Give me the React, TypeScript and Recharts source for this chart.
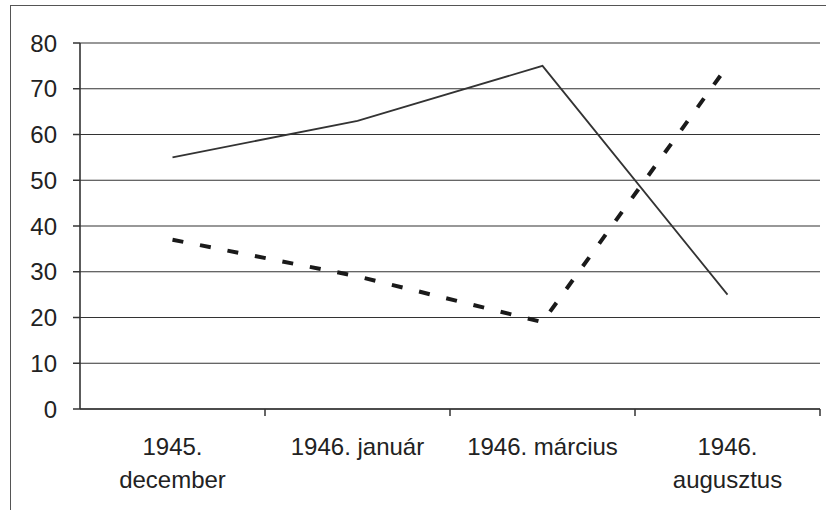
import React from 'react';
import { LineChart, Line, XAxis, YAxis, CartesianGrid } from 'recharts';

const categories = ['1945. december', '1946. január', '1946. március', '1946. augusztus'];
const tickLabelLines = [['1945.', 'december'], ['1946. január'], ['1946. március'], ['1946.', 'augusztus']];
const solidSeries = [55, 63, 75, 25];
const dashedSeries = [37, 29, 19, 75];
const yTicks = [0, 10, 20, 30, 40, 50, 60, 70, 80];

const data = categories.map((c, i) => ({ name: c, solid: solidSeries[i], dashed: dashedSeries[i] }));

const W = 826;
const H = 510;
const PLOT_LEFT = 80;
const PLOT_RIGHT = 820;
const BAND = (PLOT_RIGHT - PLOT_LEFT) / categories.length;
const FONT = '"Liberation Sans", Arial, sans-serif';

const XTick = (props: any) => {
  const { x, y, payload } = props;
  const lines = tickLabelLines[payload.index] || [payload.value];
  return (
    <g>
      <line x1={x + BAND / 2} y1={y} x2={x + BAND / 2} y2={y + 7} stroke="#333" strokeWidth={1.5} />
      {lines.map((t: string, i: number) => (
        <text key={i} x={x} y={y + 46 + i * 33} textAnchor="middle" fontSize={24} fill="#222" fontFamily={FONT}>
          {t}
        </text>
      ))}
    </g>
  );
};

export default function App() {
  return (
    <div style={{ position: 'relative', width: W, height: H, background: '#fff' }}>
      <style>{`body{margin:0;}`}</style>
      <div style={{ position: 'absolute', left: 10, top: 5, width: W - 10, height: H - 5, borderTop: '1.5px solid #555', borderLeft: '1.5px solid #555', boxSizing: 'border-box' }} />
      <LineChart width={W} height={H} data={data} margin={{ top: 43, right: 6, bottom: 0, left: 10 }} style={{ position: 'absolute', left: 0, top: 0 }}>
        <CartesianGrid yAxisId="left" vertical={false} stroke="#333" strokeWidth={1.2} />
        <XAxis
          dataKey="name"
          height={101}
          interval={0}
          padding={{ left: BAND / 2, right: BAND / 2 }}
          tickLine={false}
          tickSize={0}
          tickMargin={0}
          tick={<XTick />}
          axisLine={{ stroke: '#333', strokeWidth: 1.6 }}
        />
        <YAxis
          yAxisId="left"
          width={70}
          domain={[0, 80]}
          ticks={yTicks}
          interval={0}
          tickSize={7}
          tickMargin={16}
          tickLine={{ stroke: '#333', strokeWidth: 1.5 }}
          axisLine={{ stroke: '#333', strokeWidth: 1.6 }}
          tick={{ fontSize: 24, fill: '#222', fontFamily: FONT }}
        />
        <YAxis yAxisId="r" orientation="right" width={0} domain={[0, 80]} tick={false} tickLine={false} axisLine={{ stroke: '#333', strokeWidth: 1.5 }} />
        <Line yAxisId="left" type="linear" dataKey="solid" stroke="#333" strokeWidth={1.8} dot={false} isAnimationActive={false} />
        <Line yAxisId="left" type="linear" dataKey="dashed" stroke="#1a1a1a" strokeWidth={4} strokeDasharray="11 17" dot={false} isAnimationActive={false} />
      </LineChart>
    </div>
  );
}
